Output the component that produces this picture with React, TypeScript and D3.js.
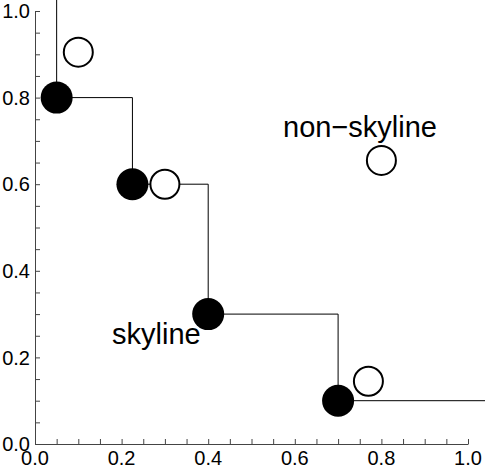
import React, { useRef, useEffect } from 'react';
import * as d3 from 'd3';

interface Pt {
  x: number;
  y: number;
}

const skylineX = [0.05, 0.225, 0.4, 0.7];
const skylineY = [0.8, 0.6, 0.3, 0.1];
const otherX = [0.1, 0.3, 0.8, 0.77];
const otherY = [0.905, 0.6, 0.655, 0.145];
const tickValues = [0, 0.2, 0.4, 0.6, 0.8, 1.0];
const minorTicks = d3.range(0, 21).map(i => i * 0.05);
// step line runs off the top and right edges
const stepStart: Pt = { x: 0.05, y: 1.03 };
const stepEnd: Pt = { x: 1.04, y: 0.1 };

const W = 485;
const H = 466;

const App: React.FC = () => {
  const svgRef = useRef<SVGSVGElement | null>(null);

  useEffect(() => {
    if (!svgRef.current) return;
    const svg = d3.select(svgRef.current);
    svg.selectAll('*').remove();

    const x = d3.scaleLinear().domain([0, 1]).range([35, 468]);
    const y = d3.scaleLinear().domain([0, 1]).range([444, 11]);
    const font = '"Liberation Sans", Arial, Helvetica, sans-serif';
    const axisColor = '#444';

    const skyline: Pt[] = skylineX.map((v, i) => ({ x: v, y: skylineY[i] }));
    const others: Pt[] = otherX.map((v, i) => ({ x: v, y: otherY[i] }));

    // axes
    const xAxisG = svg.append('g')
      .attr('transform', `translate(0, ${y(0)})`)
      .call(d3.axisBottom(x).tickValues(minorTicks).tickSizeInner(-5).tickSizeOuter(0).tickFormat(() => ''));
    const yAxisG = svg.append('g')
      .attr('transform', `translate(${x(0)}, 0)`)
      .call(d3.axisLeft(y).tickValues(minorTicks).tickSizeInner(-5).tickSizeOuter(0).tickFormat(() => ''));

    [xAxisG, yAxisG].forEach(a => {
      a.select('.domain').attr('stroke', axisColor).attr('stroke-width', 1);
      a.selectAll('.tick line').attr('stroke', axisColor).attr('stroke-width', 1);
    });

    svg.append('g')
      .selectAll('text')
      .data(tickValues)
      .enter()
      .append('text')
      .attr('x', d => x(d))
      .attr('y', 465)
      .attr('text-anchor', 'middle')
      .attr('font-family', font)
      .attr('font-size', 20)
      .text(d => d.toFixed(1));

    svg.append('g')
      .selectAll('text')
      .data(tickValues)
      .enter()
      .append('text')
      .attr('x', x(0) - 5)
      .attr('y', d => y(d))
      .attr('dy', '0.36em')
      .attr('text-anchor', 'end')
      .attr('font-family', font)
      .attr('font-size', 20)
      .text(d => d.toFixed(1));

    // skyline staircase
    const line = d3.line<Pt>()
      .x(d => x(d.x))
      .y(d => y(d.y))
      .curve(d3.curveStepAfter);

    svg.append('path')
      .datum([stepStart, ...skyline, stepEnd])
      .attr('d', line)
      .attr('fill', 'none')
      .attr('stroke', '#000')
      .attr('stroke-width', 1);

    svg.append('g')
      .selectAll('circle')
      .data(others)
      .enter()
      .append('circle')
      .attr('cx', d => x(d.x))
      .attr('cy', d => y(d.y))
      .attr('r', 14.5)
      .attr('fill', '#fff')
      .attr('stroke', '#000')
      .attr('stroke-width', 2);

    svg.append('g')
      .selectAll('circle')
      .data(skyline)
      .enter()
      .append('circle')
      .attr('cx', d => x(d.x))
      .attr('cy', d => y(d.y))
      .attr('r', 16)
      .attr('fill', '#000');

    svg.append('text')
      .attr('x', 283)
      .attr('y', 137)
      .attr('font-family', font)
      .attr('font-size', 29)
      .text('non\u2212skyline');

    svg.append('text')
      .attr('x', 112)
      .attr('y', 344)
      .attr('font-family', font)
      .attr('font-size', 29)
      .text('skyline');
  }, []);

  return (
    <svg
      ref={svgRef}
      width={W}
      height={H}
      style={{ position: 'absolute', left: 0, top: 0, background: '#fff' }}
    ></svg>
  );
};

export default App;
